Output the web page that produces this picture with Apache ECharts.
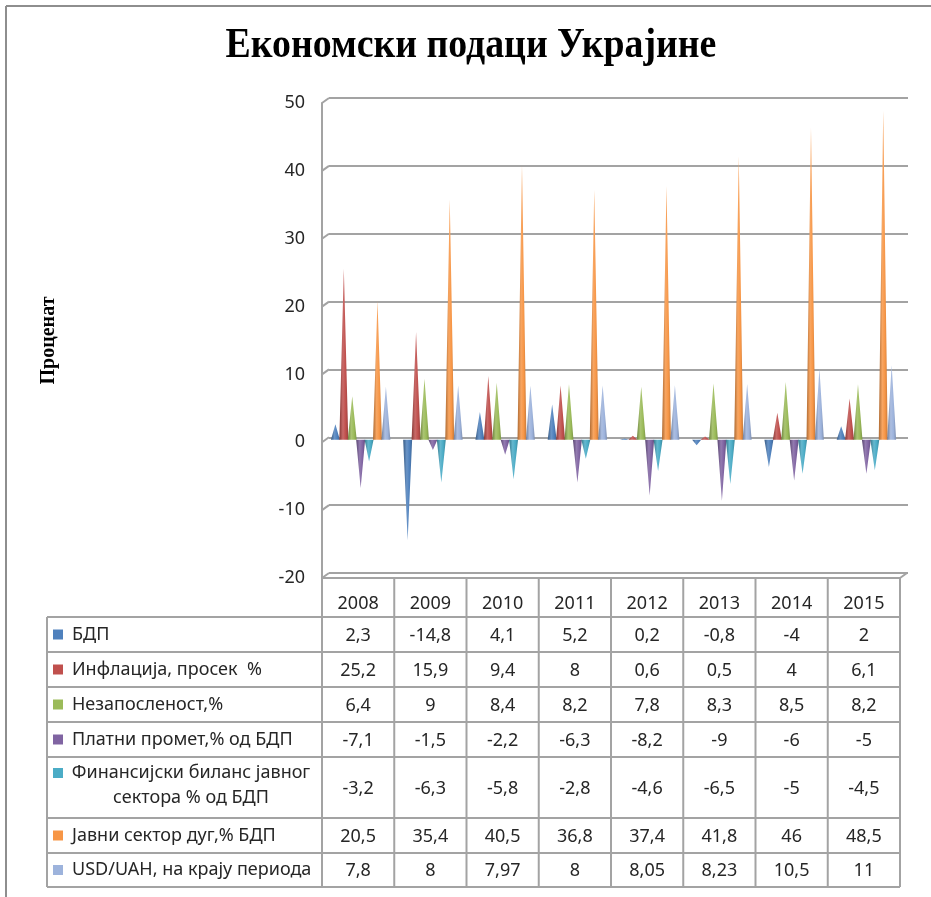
<!DOCTYPE html>
<html>
<head>
<meta charset="utf-8">
<script src="https://cdn.jsdelivr.net/npm/echarts@6/dist/echarts.min.js"></script>
<style>
html,body{margin:0;padding:0;background:#fff;}
#chart{width:931px;height:897px;}
</style>
</head>
<body>
<div id="chart"></div>
<script>
// ---------- DATA ----------
const years = ['2008','2009','2010','2011','2012','2013','2014','2015'];
const seriesNames = [
  'БДП',
  'Инфлација, просек  %',
  'Незапосленост,%',
  'Платни промет,% од БДП',
  'Финансијски биланс јавног сектора % од БДП',
  'Јавни сектор дуг,% БДП',
  'USD/UAH, на крају периода'
];
const gdp            = [2.3, -14.8, 4.1, 5.2, 0.2, -0.8, -4, 2];
const inflation      = [25.2, 15.9, 9.4, 8, 0.6, 0.5, 4, 6.1];
const unemployment   = [6.4, 9, 8.4, 8.2, 7.8, 8.3, 8.5, 8.2];
const currentAccount = [-7.1, -1.5, -2.2, -6.3, -8.2, -9, -6, -5];
const fiscalBalance  = [-3.2, -6.3, -5.8, -2.8, -4.6, -6.5, -5, -4.5];
const publicDebt     = [20.5, 35.4, 40.5, 36.8, 37.4, 41.8, 46, 48.5];
const usdUah         = [7.8, 8, 7.97, 8, 8.05, 8.23, 10.5, 11];
const yTicks = [-20, -10, 0, 10, 20, 30, 40, 50];

const allSeries = [gdp, inflation, unemployment, currentAccount, fiscalBalance, publicDebt, usdUah];
const colors = ['#4F81BD', '#C0504D', '#9BBB59', '#8064A2', '#4BACC6', '#F79646', '#9DB3DC'];

// ---------- STYLE / LAYOUT ----------
const W = 931, H = 897;
const frontTop = 103, frontBottom = 578;
const plotLeft = 322, plotRight = 900;
const backShiftX = 7, backShiftY = 5;
const lineCol = '#a3a3a3';
const textCol = '#262626';
const sansFont = '"Noto Sans", "DejaVu Sans", sans-serif';
const serifFont = '"Liberation Serif", "Times New Roman", serif';

const tableLeft = 47;
const legendTextX = 72;
const rowEdges = [617, 652, 687, 722, 757, 818, 853, 887];
const headerTop = 578;

function shade(hex, f) {
  const n = parseInt(hex.slice(1), 16);
  let r = (n >> 16) & 255, g = (n >> 8) & 255, b = n & 255;
  if (f < 0) { r = r * (1 + f); g = g * (1 + f); b = b * (1 + f); }
  else { r = r + (255 - r) * f; g = g + (255 - g) * f; b = b + (255 - b) * f; }
  return 'rgb(' + Math.round(r) + ',' + Math.round(g) + ',' + Math.round(b) + ')';
}

const chart = echarts.init(document.getElementById('chart'), null, {renderer: 'canvas'});

const coneSeries = allSeries.map(function (vals, sIdx) {
  const base = colors[sIdx];
  return {
    type: 'custom',
    name: seriesNames[sIdx],
    xAxisIndex: 2,
    yAxisIndex: 2,
    data: vals.map(function (v, i) { return [i, v]; }),
    renderItem: function (params, api) {
      const cat = api.value(0), val = api.value(1);
      const b = api.coord([cat, 0]);
      const t = api.coord([cat, val]);
      const bw = api.size([1, 0])[0];
      const cx = b[0] + (sIdx - 3) * 0.1165 * bw + 0.035 * bw;
      const hw = 0.062 * bw;
      return {
        type: 'polygon',
        shape: {points: [[cx - hw, b[1]], [cx + hw, b[1]], [cx, t[1]]]},
        style: {
          fill: new echarts.graphic.LinearGradient(0, 0, 1, 0, [
            {offset: 0, color: shade(base, -0.3)},
            {offset: 0.4, color: shade(base, 0.15)},
            {offset: 0.7, color: base},
            {offset: 1, color: shade(base, -0.2)}
          ])
        }
      };
    }
  };
});

const option = {
  animation: false,
  backgroundColor: '#fff',
  grid: [
    {left: plotLeft, right: W - plotRight, top: frontTop, height: frontBottom - frontTop},
    {left: plotLeft + backShiftX, right: W - plotRight - backShiftX - 1, top: frontTop - backShiftY, height: frontBottom - frontTop},
    {left: plotLeft, right: W - plotRight, top: frontTop - backShiftY / 2, height: frontBottom - frontTop}
  ],
  xAxis: [
    {gridIndex: 0, type: 'category', data: years, show: false},
    {gridIndex: 1, type: 'category', data: years, show: false},
    {gridIndex: 2, type: 'category', data: years, show: false}
  ],
  yAxis: [
    {
      gridIndex: 0, type: 'value', min: -20, max: 50, interval: 10,
      axisLine: {show: true, lineStyle: {color: lineCol, width: 2}},
      axisTick: {show: false},
      splitLine: {show: false},
      axisLabel: {fontFamily: sansFont, fontSize: 18, color: textCol, margin: 17},
      name: 'Проценат', nameLocation: 'middle', nameRotate: 90, nameGap: 263,
      nameTextStyle: {fontFamily: serifFont, fontWeight: 'bold', fontSize: 20, color: '#000'}
    },
    {
      gridIndex: 1, type: 'value', min: -20, max: 50, interval: 10,
      axisLine: {show: false}, axisTick: {show: false}, axisLabel: {show: false},
      splitLine: {show: true, lineStyle: {color: lineCol, width: 2}}
    },
    {
      gridIndex: 2, type: 'value', min: -20, max: 50, interval: 10, show: false
    }
  ],
  series: coneSeries
};
chart.setOption(option);

// ---------- graphic: frame, 3D edges, title, data table ----------
const g = [];
function line(x1, y1, x2, y2, col, w) {
  g.push({type: 'line', silent: true, z: 10, shape: {x1: x1, y1: y1, x2: x2, y2: y2},
          style: {stroke: col || lineCol, lineWidth: w || 2}});
}
function text(x, y, s, opts) {
  g.push({type: 'text', silent: true, z: 11, x: x, y: y,
          style: Object.assign({text: s, font: '18px ' + sansFont, fill: textCol,
                                align: 'center', verticalAlign: 'middle'}, opts || {})});
}

// outer frame (top & left visible)
line(6, 6, W, 6, '#8e8e8e', 2);
line(6, 6, 6, H, '#8e8e8e', 2);

// title
g.push({type: 'text', silent: true, z: 11, x: 471, y: 46, scaleX: 0.9,
        style: {text: 'Економски подаци Украјине', font: 'bold 42px ' + serifFont, fill: '#000',
                align: 'center', verticalAlign: 'middle'}});

// 3D slants from front axis to back wall gridlines
yTicks.forEach(function (v) {
  const yf = chart.convertToPixel({yAxisIndex: 0}, v);
  const yb = chart.convertToPixel({yAxisIndex: 1}, v);
  line(plotLeft, yf, plotLeft + backShiftX, yb);
});
// floor front edge & right slant
line(plotLeft, headerTop, plotRight, headerTop);
line(plotRight, headerTop, plotRight + backShiftX, headerTop - backShiftY);

// column edges derived from category axis
const colEdges = [];
const colCenters = [];
for (let i = 0; i < years.length; i++) {
  colCenters.push(chart.convertToPixel({xAxisIndex: 0}, i));
}
const colW = (plotRight - plotLeft) / years.length;
for (let i = 0; i <= years.length; i++) colEdges.push(plotLeft + i * colW);

// vertical lines of table
colEdges.forEach(function (x) { line(x, headerTop, x, rowEdges[rowEdges.length - 1]); });
line(tableLeft, rowEdges[0], tableLeft, rowEdges[rowEdges.length - 1]);
// horizontal lines
rowEdges.forEach(function (y) { line(tableLeft, y, plotRight, y); });

// header years
years.forEach(function (yr, i) { text(colCenters[i], 604, yr); });

// rows
function fmt(v) { return String(v).replace('.', ','); }
allSeries.forEach(function (vals, r) {
  const top = rowEdges[r], bot = rowEdges[r + 1];
  const mid = (top + bot) / 2;
  const name = seriesNames[r];
  if (r === 4) {
    const first = 'Финансијски биланс јавног';
    const second = name.slice(first.length + 1);
    g.push({type: 'rect', silent: true, z: 11, shape: {x: 53, y: top + 11, width: 10, height: 10}, style: {fill: colors[r]}});
    text(191, top + 16, first);
    text(191, top + 41, second);
  } else {
    g.push({type: 'rect', silent: true, z: 11, shape: {x: 53, y: mid - 5, width: 10, height: 10}, style: {fill: colors[r]}});
    text(legendTextX, mid, name, {align: 'left'});
  }
  vals.forEach(function (v, i) { text(colCenters[i], mid + 1, fmt(v)); });
});

chart.setOption({graphic: {elements: g}});
</script>
</body>
</html>
